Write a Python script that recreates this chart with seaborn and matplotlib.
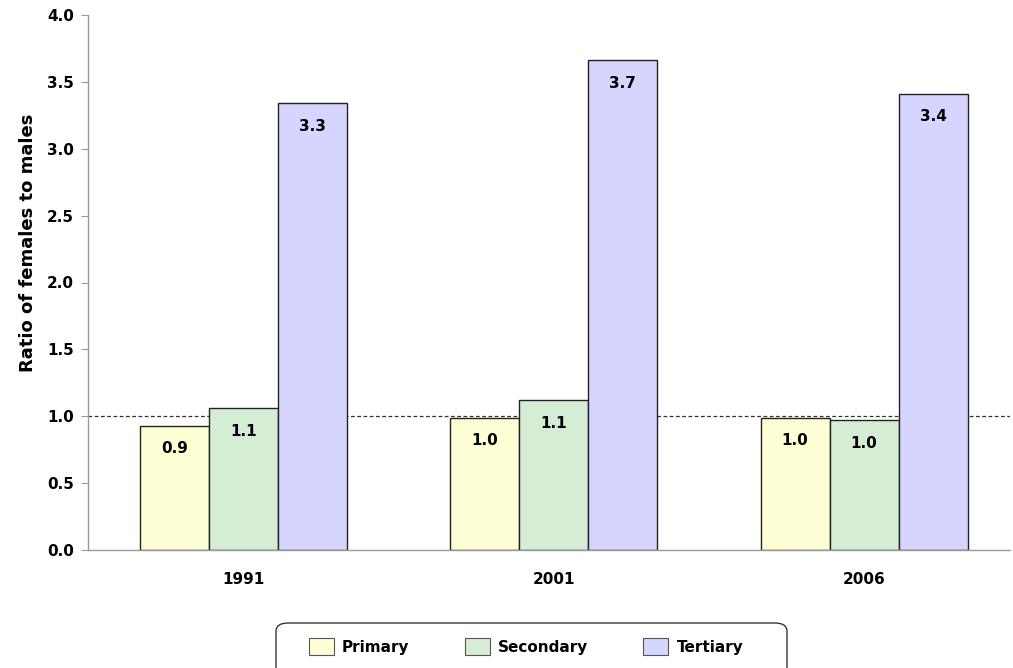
import matplotlib
matplotlib.use("Agg")
import matplotlib.pyplot as plt
from matplotlib.patches import FancyBboxPatch
import pandas as pd
import seaborn as sns

# values
years = ["1991", "2001", "2006"]
levels = ["Primary", "Secondary", "Tertiary"]
primary = [0.93, 0.99, 0.99]
secondary = [1.06, 1.12, 0.97]
tertiary = [3.34, 3.66, 3.41]
yticks = [0.0, 0.5, 1.0, 1.5, 2.0, 2.5, 3.0, 3.5, 4.0]

colors = ["#FFFFD5", "#D5ECD5", "#D5D5FF"]

df = pd.DataFrame({
    "year": years * 3,
    "level": [levels[0]] * 3 + [levels[1]] * 3 + [levels[2]] * 3,
    "ratio": primary + secondary + tertiary,
})

sns.set_style("white")
plt.rcParams["font.family"] = ["DejaVu Sans"]
plt.rcParams["text.color"] = "black"
plt.rcParams["xtick.color"] = "black"
plt.rcParams["ytick.color"] = "black"
plt.rcParams["axes.labelcolor"] = "black"

W, H = 1013, 668
fig = plt.figure(figsize=(W / 100, H / 100), dpi=100)
ax = fig.add_axes([88 / W, 1 - 550 / H, 922 / W, 535 / H])

sns.barplot(
    data=df, x="year", y="ratio", hue="level", order=years, hue_order=levels,
    palette=colors, saturation=1, width=0.667, gap=0, edgecolor="#222222",
    linewidth=1, errorbar=None, legend=False, ax=ax,
)

for cont in ax.containers:
    ax.bar_label(cont, fmt="%.1f", padding=-22, fontsize=11, fontweight="bold")

ax.axhline(1.0, color="#333333", linestyle=(0, (3, 2)), linewidth=0.9, zorder=0.5)

ax.set_ylim(0, 4.0)
ax.set_xlim(-0.5, 2.47)
ax.set_yticks(yticks)
ax.set_yticklabels([f"{t:.1f}" for t in yticks], fontsize=11, fontweight="bold")
ax.set_xticks(range(len(years)))
ax.set_xticklabels(years, fontsize=11, fontweight="bold")
ax.tick_params(axis="y", length=5, color="#999999", pad=5, left=True)
ax.tick_params(axis="x", length=0, pad=16)
ax.set_xlabel("")
ax.set_ylabel("Ratio of females to males", fontsize=13, fontweight="bold")
ax.yaxis.set_label_coords(-0.055, 0.574)

for side in ["top", "right"]:
    ax.spines[side].set_visible(False)
for side in ["left", "bottom"]:
    ax.spines[side].set_color("#999999")
    ax.spines[side].set_linewidth(1)

# legend box, partly cut by the bottom edge as in the reference
box = FancyBboxPatch(
    (276 / W, -0.02), (787 - 276) / W, (1 - 623 / H) + 0.02,
    boxstyle="round,pad=0,rounding_size=0.012", transform=fig.transFigure,
    facecolor="white", edgecolor="#222222", linewidth=0.9,
)
fig.patches.append(box)

handles = [plt.Rectangle((0, 0), 1, 1, facecolor=c, edgecolor="#555555", linewidth=0.8) for c in colors]
leg = fig.legend(
    handles, levels, loc="center", bbox_to_anchor=(526 / W, 1 - 646.5 / H),
    ncol=3, frameon=False, columnspacing=3.6, handlelength=1.63,
    handleheight=1.35, handletextpad=0.55, borderpad=0,
    prop={"size": 11, "weight": "bold"},
)

fig.savefig("out.png", dpi=100)
